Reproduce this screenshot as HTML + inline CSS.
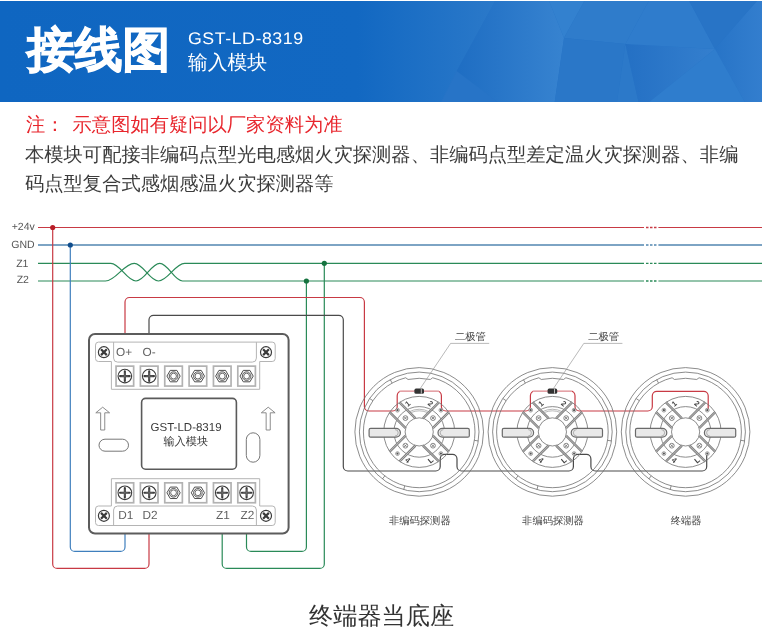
<!DOCTYPE html>
<html><head><meta charset="utf-8"><style>
html,body{margin:0;padding:0;background:#fff;}
body{width:762px;height:641px;overflow:hidden;position:relative;font-family:"Liberation Sans",sans-serif;text-rendering:geometricPrecision;}
.t{position:absolute;white-space:nowrap;line-height:1;will-change:transform;}
svg text{font-family:"Liberation Sans",sans-serif;}
</style></head><body>
<svg width="762" height="101" viewBox="0 1 762 101" style="position:absolute;left:0;top:1px">
<defs>
<linearGradient id="g1" gradientUnits="userSpaceOnUse" x1="0" y1="0" x2="496" y2="0"><stop offset="0" stop-color="#0f66c1"/><stop offset="0.72" stop-color="#1268c2"/><stop offset="1" stop-color="#2b79c9"/></linearGradient>
<linearGradient id="g3" gradientUnits="userSpaceOnUse" x1="460" y1="0" x2="564" y2="0"><stop offset="0" stop-color="#1f6ec3"/><stop offset="1" stop-color="#3783d0"/></linearGradient>
<linearGradient id="g8" gradientUnits="userSpaceOnUse" x1="625" y1="0" x2="715" y2="0"><stop offset="0" stop-color="#2470c4"/><stop offset="1" stop-color="#347fce"/></linearGradient>
<linearGradient id="g11" gradientUnits="userSpaceOnUse" x1="715" y1="0" x2="762" y2="0"><stop offset="0" stop-color="#2774c7"/><stop offset="1" stop-color="#337ece"/></linearGradient>
</defs>
<rect x="0" y="0" width="762" height="102" fill="#2673c6"/>
<polygon points="0,0 495.6,0 456.6,70.9 441.3,102 0,102" fill="url(#g1)"/>
<polygon points="456.6,70.9 441.3,102 498,102" fill="#2774c7"/>
<polygon points="495.6,0 548.7,0 564,38 554.7,102 498,102 456.6,70.9" fill="url(#g3)"/>
<polygon points="548.7,0 585,0 564,38" fill="#3381cf"/>
<polygon points="585,0 649.3,0 625.4,44 564,38" fill="#2f7ccb"/>
<polygon points="564,38 625.4,44 617,102 554.7,102" fill="#2a77c8"/>
<polygon points="625.4,44 638.5,102 617,102" fill="#2c79c9"/>
<polygon points="625.4,44 715,49 649.3,102 638.5,102" fill="url(#g8)"/>
<polygon points="649.3,0 688.7,0 715,49 625.4,44" fill="#2f7ccc"/>
<polygon points="688.7,0 758,0 715,49" fill="#2874c6"/>
<polygon points="758,0 762,0 762,102 744.8,102 715,49" fill="url(#g11)"/>
<polygon points="715,49 744.8,102 649.3,102" fill="#2f7dcd"/>
</svg>
<div class="t" style="left:26.8px;top:26.5px;font-size:47.8px;font-weight:bold;color:#fff;-webkit-text-stroke:1px #fff">接线图</div>
<div class="t" style="left:188px;top:30.5px;font-size:16.8px;letter-spacing:0.5px;color:#fff;transform:scaleX(1.06);transform-origin:0 0">GST-LD-8319</div>
<div class="t" style="left:188px;top:54px;font-size:19.8px;color:#fff">输入模块</div>
<div class="t" style="left:25.6px;top:116.3px;font-size:19.3px;color:#e8262d">注：<span style="margin-left:8px">示意图如有疑问以厂家资料为准</span></div>
<div class="t" style="left:25.2px;top:145.7px;font-size:19.3px;color:#3c3c3c">本模块可配接非编码点型光电感烟火灾探测器、非编码点型差定温火灾探测器、非编</div>
<div class="t" style="left:25.2px;top:175.2px;font-size:19.3px;color:#3c3c3c">码点型复合式感烟感温火灾探测器等</div>
<div class="t" style="left:308.5px;top:604.6px;font-size:24.2px;color:#333">终端器当底座</div>
<svg width="762" height="641" viewBox="0 0 762 641" style="position:absolute;left:0;top:0;will-change:transform">
<g fill="none" stroke-width="1.2"><path d="M38 227.5H762" stroke="#c83a44"/><path d="M38 245H762" stroke="#5286b0" stroke-width="1.4"/><path d="M38 263.3H110.8 C119.87 263.3 126.93 281 136 281 C144.57 281 151.23 263.3 159.8 263.3 C167.97 263.3 174.33 281 182.5 281H762" stroke="#2a8a58"/><path d="M38 281.0H105.5 C115.87 281 123.93 263.3 134.3 263.3 C142.98 263.3 149.72 281 158.4 281 C167.83 281 175.17 263.3 184.6 263.3H762" stroke="#2a8a58"/><path d="M52.7 227.5L52.7 563.9A4.5 4.5 0 0 0 57.2 568.4L144.5 568.4A4.5 4.5 0 0 0 149 563.9L149 534" stroke="#c83a44"/><path d="M70.3 245L70.3 546.9A4.5 4.5 0 0 0 74.8 551.4L120.5 551.4A4.5 4.5 0 0 0 125 546.9L125 534" stroke="#3f7fbd"/><path d="M324.3 263.3L324.3 563.9A4.5 4.5 0 0 1 319.8 568.4L226.7 568.4A4.5 4.5 0 0 1 222.2 563.9L222.2 534" stroke="#2a8a58"/><path d="M306.4 281L306.4 546.9A4.5 4.5 0 0 1 301.9 551.4L251 551.4A4.5 4.5 0 0 1 246.5 546.9L246.5 534" stroke="#2a8a58"/><path d="M125 334L125 302A4.5 4.5 0 0 1 129.5 297.5L359.9 297.5A4.5 4.5 0 0 1 364.4 302L364.4 406.5A4.5 4.5 0 0 0 368.9 411L392.7 411A4.5 4.5 0 0 0 397.2 406.5L397.2 395.7A4.5 4.5 0 0 1 401.7 391.2L436.9 391.2A4.5 4.5 0 0 1 441.4 395.7L441.4 406.5A4.5 4.5 0 0 0 445.9 411L525.9 411A4.5 4.5 0 0 0 530.4 406.5L530.4 395.7A4.5 4.5 0 0 1 534.9 391.2L570.5 391.2A4.5 4.5 0 0 1 575 395.7L575 406.5A4.5 4.5 0 0 0 579.5 411L647.8 411A4.5 4.5 0 0 0 652.3 406.5L652.3 395.8A4.5 4.5 0 0 1 656.8 391.3L703.7 391.3A4.5 4.5 0 0 1 708.2 395.8L708.2 411" stroke="#c83a44"/><path d="M149 334L149 319.8A4.5 4.5 0 0 1 153.5 315.3L338.8 315.3A4.5 4.5 0 0 1 343.3 319.8L343.3 466.5A4.5 4.5 0 0 0 347.8 471L435.7 471A4.5 4.5 0 0 0 440.2 466.5L440.2 458.9A4.5 4.5 0 0 1 444.7 454.4L452.5 454.4A4.5 4.5 0 0 1 457 458.9L457 466.5A4.5 4.5 0 0 0 461.5 471L568.9 471A4.5 4.5 0 0 0 573.4 466.5L573.4 458.9A4.5 4.5 0 0 1 577.9 454.4L586.4 454.4A4.5 4.5 0 0 1 590.9 458.9L590.9 466.5A4.5 4.5 0 0 0 595.4 471L702.2 471A4.5 4.5 0 0 0 706.7 466.5L706.7 454" stroke="#4a4a4a"/></g><rect x="644" y="224" width="14.4" height="60" fill="#fff"/><g stroke-width="1.3" fill="none" stroke-dasharray="2.5 1.5"><path d="M646 227.5H657" stroke="#c83a44"/><path d="M646 245H657" stroke="#5286b0"/><path d="M646 263.3H657" stroke="#2a8a58"/><path d="M646 281.0H657" stroke="#2a8a58"/></g><circle cx="52.7" cy="227.5" r="2.6" fill="#b81e28"/><circle cx="70.3" cy="245" r="2.6" fill="#0f4d8c"/><circle cx="324.3" cy="263.3" r="2.6" fill="#16733f"/><circle cx="306.4" cy="281" r="2.6" fill="#16733f"/><text x="23.2" y="229.6" text-anchor="middle" font-size="10.5" fill="#555">+24v</text><text x="23" y="248.1" text-anchor="middle" font-size="10.5" fill="#555">GND</text><text x="22.3" y="267.1" text-anchor="middle" font-size="10.5" fill="#555">Z1</text><text x="22.8" y="283.1" text-anchor="middle" font-size="10.5" fill="#555">Z2</text><rect x="89" y="334" width="199.6" height="199.5" rx="6" fill="#fff" stroke="#5c5c5c" stroke-width="2"/><path d="M111.4 361.5V389.3H259.7V361.5" fill="none" stroke="#b4b4b4" stroke-width="1"/><path d="M111.4 361.5H98.5a3 3 0 0 1-3-3V345.1a3 3 0 0 1 3-3H272.2a3 3 0 0 1 3 3V358.5a3 3 0 0 1-3 3H259.7" fill="none" stroke="#b4b4b4" stroke-width="1"/><path d="M113.6 342.1V358.1a4 4 0 0 0 4 4H252.4a4 4 0 0 0 4-4V342.1" fill="none" stroke="#b4b4b4" stroke-width="1"/><path d="M111.4 506V478.7H259.7V506" fill="none" stroke="#b4b4b4" stroke-width="1"/><path d="M111.4 506H98.5a3 3 0 0 0-3 3V522.5a3 3 0 0 0 3 3H272.2a3 3 0 0 0 3-3V509a3 3 0 0 0-3-3H259.7" fill="none" stroke="#b4b4b4" stroke-width="1"/><path d="M113.6 525.5V510a4 4 0 0 1 4-4H252.4a4 4 0 0 1 4 4V525.5" fill="none" stroke="#b4b4b4" stroke-width="1"/><circle cx="103.9" cy="352.2" r="5.5" fill="#fff" stroke="#3a3a3a" stroke-width="1.2"/><path d="M101 349.3L106.8 355.1M106.8 349.3L101 355.1" stroke="#3a3a3a" stroke-width="2.2"/><circle cx="266" cy="352.2" r="5.5" fill="#fff" stroke="#3a3a3a" stroke-width="1.2"/><path d="M263.1 349.3L268.9 355.1M268.9 349.3L263.1 355.1" stroke="#3a3a3a" stroke-width="2.2"/><circle cx="103.9" cy="515.8" r="5.5" fill="#fff" stroke="#3a3a3a" stroke-width="1.2"/><path d="M101 512.9L106.8 518.7M106.8 512.9L101 518.7" stroke="#3a3a3a" stroke-width="2.2"/><circle cx="266" cy="515.8" r="5.5" fill="#fff" stroke="#3a3a3a" stroke-width="1.2"/><path d="M263.1 512.9L268.9 518.7M268.9 512.9L263.1 518.7" stroke="#3a3a3a" stroke-width="2.2"/><rect x="116.05" y="366.15" width="17.6" height="19.9" fill="#fff" stroke="#b2b2b2" stroke-width="1.7"/><circle cx="124.85" cy="376.1" r="6.8" fill="#fff" stroke="#3a3a3a" stroke-width="1.1"/><path d="M120.05 376.1H129.65M124.85 371.3V380.9" stroke="#3c3c3c" stroke-width="2.1" stroke-linecap="round"/><path d="M121.35 376.1H128.35M124.85 372.6V379.6" stroke="#8a8a8a" stroke-width="0.5"/><rect x="116.05" y="482.85" width="17.6" height="19.9" fill="#fff" stroke="#b2b2b2" stroke-width="1.7"/><circle cx="124.85" cy="492.8" r="6.8" fill="#fff" stroke="#3a3a3a" stroke-width="1.1"/><path d="M120.05 492.8H129.65M124.85 488V497.6" stroke="#3c3c3c" stroke-width="2.1" stroke-linecap="round"/><path d="M121.35 492.8H128.35M124.85 489.3V496.3" stroke="#8a8a8a" stroke-width="0.5"/><rect x="140.4" y="366.15" width="17.6" height="19.9" fill="#fff" stroke="#b2b2b2" stroke-width="1.7"/><circle cx="149.2" cy="376.1" r="6.8" fill="#fff" stroke="#3a3a3a" stroke-width="1.1"/><path d="M144.4 376.1H154M149.2 371.3V380.9" stroke="#3c3c3c" stroke-width="2.1" stroke-linecap="round"/><path d="M145.7 376.1H152.7M149.2 372.6V379.6" stroke="#8a8a8a" stroke-width="0.5"/><rect x="140.4" y="482.85" width="17.6" height="19.9" fill="#fff" stroke="#b2b2b2" stroke-width="1.7"/><circle cx="149.2" cy="492.8" r="6.8" fill="#fff" stroke="#3a3a3a" stroke-width="1.1"/><path d="M144.4 492.8H154M149.2 488V497.6" stroke="#3c3c3c" stroke-width="2.1" stroke-linecap="round"/><path d="M145.7 492.8H152.7M149.2 489.3V496.3" stroke="#8a8a8a" stroke-width="0.5"/><rect x="164.75" y="366.15" width="17.6" height="19.9" fill="#fff" stroke="#b2b2b2" stroke-width="1.7"/><polygon points="180.15,376.1 176.85,381.82 170.25,381.82 166.95,376.1 170.25,370.38 176.85,370.38" fill="#fff" stroke="#3a3a3a" stroke-width="0.9"/><circle cx="173.55" cy="376.1" r="4.3" fill="none" stroke="#3a3a3a" stroke-width="0.85"/><circle cx="173.55" cy="376.1" r="2.9" fill="none" stroke="#3a3a3a" stroke-width="0.75"/><rect x="164.75" y="482.85" width="17.6" height="19.9" fill="#fff" stroke="#b2b2b2" stroke-width="1.7"/><polygon points="180.15,492.8 176.85,498.52 170.25,498.52 166.95,492.8 170.25,487.08 176.85,487.08" fill="#fff" stroke="#3a3a3a" stroke-width="0.9"/><circle cx="173.55" cy="492.8" r="4.3" fill="none" stroke="#3a3a3a" stroke-width="0.85"/><circle cx="173.55" cy="492.8" r="2.9" fill="none" stroke="#3a3a3a" stroke-width="0.75"/><rect x="189.1" y="366.15" width="17.6" height="19.9" fill="#fff" stroke="#b2b2b2" stroke-width="1.7"/><polygon points="204.5,376.1 201.2,381.82 194.6,381.82 191.3,376.1 194.6,370.38 201.2,370.38" fill="#fff" stroke="#3a3a3a" stroke-width="0.9"/><circle cx="197.9" cy="376.1" r="4.3" fill="none" stroke="#3a3a3a" stroke-width="0.85"/><circle cx="197.9" cy="376.1" r="2.9" fill="none" stroke="#3a3a3a" stroke-width="0.75"/><rect x="189.1" y="482.85" width="17.6" height="19.9" fill="#fff" stroke="#b2b2b2" stroke-width="1.7"/><polygon points="204.5,492.8 201.2,498.52 194.6,498.52 191.3,492.8 194.6,487.08 201.2,487.08" fill="#fff" stroke="#3a3a3a" stroke-width="0.9"/><circle cx="197.9" cy="492.8" r="4.3" fill="none" stroke="#3a3a3a" stroke-width="0.85"/><circle cx="197.9" cy="492.8" r="2.9" fill="none" stroke="#3a3a3a" stroke-width="0.75"/><rect x="213.45" y="366.15" width="17.6" height="19.9" fill="#fff" stroke="#b2b2b2" stroke-width="1.7"/><polygon points="228.85,376.1 225.55,381.82 218.95,381.82 215.65,376.1 218.95,370.38 225.55,370.38" fill="#fff" stroke="#3a3a3a" stroke-width="0.9"/><circle cx="222.25" cy="376.1" r="4.3" fill="none" stroke="#3a3a3a" stroke-width="0.85"/><circle cx="222.25" cy="376.1" r="2.9" fill="none" stroke="#3a3a3a" stroke-width="0.75"/><rect x="213.45" y="482.85" width="17.6" height="19.9" fill="#fff" stroke="#b2b2b2" stroke-width="1.7"/><circle cx="222.25" cy="492.8" r="6.8" fill="#fff" stroke="#3a3a3a" stroke-width="1.1"/><path d="M217.45 492.8H227.05M222.25 488V497.6" stroke="#3c3c3c" stroke-width="2.1" stroke-linecap="round"/><path d="M218.75 492.8H225.75M222.25 489.3V496.3" stroke="#8a8a8a" stroke-width="0.5"/><rect x="237.8" y="366.15" width="17.6" height="19.9" fill="#fff" stroke="#b2b2b2" stroke-width="1.7"/><polygon points="253.2,376.1 249.9,381.82 243.3,381.82 240,376.1 243.3,370.38 249.9,370.38" fill="#fff" stroke="#3a3a3a" stroke-width="0.9"/><circle cx="246.6" cy="376.1" r="4.3" fill="none" stroke="#3a3a3a" stroke-width="0.85"/><circle cx="246.6" cy="376.1" r="2.9" fill="none" stroke="#3a3a3a" stroke-width="0.75"/><rect x="237.8" y="482.85" width="17.6" height="19.9" fill="#fff" stroke="#b2b2b2" stroke-width="1.7"/><circle cx="246.6" cy="492.8" r="6.8" fill="#fff" stroke="#3a3a3a" stroke-width="1.1"/><path d="M241.8 492.8H251.4M246.6 488V497.6" stroke="#3c3c3c" stroke-width="2.1" stroke-linecap="round"/><path d="M243.1 492.8H250.1M246.6 489.3V496.3" stroke="#8a8a8a" stroke-width="0.5"/><g font-size="11.8" fill="#606060"><text x="116" y="356">O+</text><text x="142.6" y="356">O-</text><text x="118.3" y="519.4">D1</text><text x="142.5" y="519.4">D2</text><text x="216" y="519.4">Z1</text><text x="240.6" y="519.4">Z2</text></g><rect x="141.6" y="398.4" width="94.8" height="70.8" rx="4" fill="#fff" stroke="#5a5a5a" stroke-width="1.6"/><text x="186.1" y="431" text-anchor="middle" font-size="11.5" fill="#383838">GST-LD-8319</text><text x="185.8" y="445" text-anchor="middle" font-size="11.2" fill="#383838">输入模块</text><path d="M102.7 407.2L109.6 412.8H104.75V430H100.65V412.8H95.8Z" fill="#fff" stroke="#808080" stroke-width="0.9" stroke-linejoin="miter"/><path d="M268.2 407.2L275.1 412.8H270.25V430H266.15V412.8H261.3Z" fill="#fff" stroke="#808080" stroke-width="0.9" stroke-linejoin="miter"/><rect x="99" y="439.2" width="29.5" height="12" rx="6" fill="#fff" stroke="#777" stroke-width="1"/><rect x="246.3" y="432.8" width="13.6" height="29.4" rx="6.8" fill="#fff" stroke="#777" stroke-width="1"/><g fill="none" stroke="#6e6e6e" stroke-width="0.8"><circle cx="419.2" cy="431.9" r="64.3"/><circle cx="419.2" cy="431.9" r="59.8"/><path d="M432.7 377.76A55.8 55.8 0 1 1 405.7 377.76"/><path d="M408.06 379.47A53.6 53.6 0 0 1 430.34 379.47"/><path d="M405.7 377.76L408.06 379.47"/><path d="M432.7 377.76L430.34 379.47"/><path d="M372.94 400.7L369.62 398.46"/><path d="M392.15 383.1L390.21 379.6"/><path d="M384.85 475.87L382.38 479.02"/><path d="M404.76 485.8L403.72 489.66"/><path d="M474.36 440.34L478.31 440.95"/><circle cx="419.2" cy="431.9" r="35.5"/><circle cx="419.2" cy="431.9" r="25.3"/><circle cx="419.2" cy="431.9" r="14.1"/></g><path d="M432.8 435.61L448.76 451.56M422.91 445.5L438.86 461.46M415.49 445.5L399.54 461.46M405.6 435.61L389.64 451.56M405.6 428.19L389.64 412.24M415.49 418.3L399.54 402.34M422.91 418.3L438.86 402.34M432.8 428.19L448.76 412.24" stroke="#828282" stroke-width="2.5" fill="none"/><path d="M432.8 435.61L448.76 451.56M422.91 445.5L438.86 461.46M415.49 445.5L399.54 461.46M405.6 435.61L389.64 451.56M405.6 428.19L389.64 412.24M415.49 418.3L399.54 402.34M422.91 418.3L438.86 402.34M432.8 428.19L448.76 412.24" stroke="#c8c8c8" stroke-width="0.8" fill="none"/><circle cx="432.99" cy="445.69" r="2.4" fill="#fff" stroke="#666" stroke-width="0.75"/><path d="M431.69 444.39L434.29 446.99M434.29 444.39L431.69 446.99" stroke="#666" stroke-width="0.8"/><circle cx="440.91" cy="453.61" r="1.9" fill="#fff" stroke="#666" stroke-width="0.6"/><circle cx="440.91" cy="453.61" r="1.1" fill="#555"/><circle cx="405.41" cy="445.69" r="2.4" fill="#fff" stroke="#666" stroke-width="0.75"/><path d="M404.11 444.39L406.71 446.99M406.71 444.39L404.11 446.99" stroke="#666" stroke-width="0.8"/><circle cx="397.49" cy="453.61" r="1.9" fill="#fff" stroke="#666" stroke-width="0.6"/><circle cx="397.49" cy="453.61" r="1.1" fill="#555"/><circle cx="405.41" cy="418.11" r="2.4" fill="#fff" stroke="#666" stroke-width="0.75"/><path d="M404.11 416.81L406.71 419.41M406.71 416.81L404.11 419.41" stroke="#666" stroke-width="0.8"/><circle cx="397.49" cy="410.19" r="1.9" fill="#fff" stroke="#666" stroke-width="0.6"/><circle cx="397.49" cy="410.19" r="1.1" fill="#555"/><circle cx="432.99" cy="418.11" r="2.4" fill="#fff" stroke="#666" stroke-width="0.75"/><path d="M431.69 416.81L434.29 419.41M434.29 416.81L431.69 419.41" stroke="#666" stroke-width="0.8"/><circle cx="440.91" cy="410.19" r="1.9" fill="#fff" stroke="#666" stroke-width="0.6"/><circle cx="440.91" cy="410.19" r="1.1" fill="#555"/><path d="M408.64 412.03A22.5 22.5 0 0 1 429.76 412.03" fill="none" stroke="#888" stroke-width="0.6"/><path d="M411.33 412.43A21 21 0 0 1 427.07 412.43" fill="none" stroke="#888" stroke-width="0.6"/><text x="407.77" y="406.22" font-size="7.5" font-weight="bold" fill="#444" text-anchor="middle" transform="rotate(-40 407.77 403.62)">1</text><text x="430.63" y="406.22" font-size="7.5" font-weight="bold" fill="#444" text-anchor="middle" transform="rotate(40 430.63 403.62)">2</text><text x="407.77" y="462.78" font-size="7.5" font-weight="bold" fill="#444" text-anchor="middle" transform="rotate(40 407.77 460.18)">4</text><text x="430.63" y="462.78" font-size="7.5" font-weight="bold" fill="#444" text-anchor="middle" transform="rotate(-40 430.63 460.18)">L</text><path d="M370.6 428.4H396A4.4 4.4 0 0 1 396 437.2H370.6A1.5 1.5 0 0 1 369.1 435.7V429.9A1.5 1.5 0 0 1 370.6 428.4Z" fill="#e9e9e9" stroke="#6a6a6a" stroke-width="1.2"/><path d="M395 429.6A3.2 3.2 0 0 1 395 436" fill="none" stroke="#888" stroke-width="0.6"/><path d="M467.8 428.4H442.4A4.4 4.4 0 0 0 442.4 437.2H467.8A1.5 1.5 0 0 0 469.3 435.7V429.9A1.5 1.5 0 0 0 467.8 428.4Z" fill="#e9e9e9" stroke="#6a6a6a" stroke-width="1.2"/><path d="M443.4 429.6A3.2 3.2 0 0 0 443.4 436" fill="none" stroke="#888" stroke-width="0.6"/><g fill="none" stroke="#6e6e6e" stroke-width="0.8"><circle cx="552.4" cy="431.9" r="64.3"/><circle cx="552.4" cy="431.9" r="59.8"/><path d="M565.9 377.76A55.8 55.8 0 1 1 538.9 377.76"/><path d="M541.26 379.47A53.6 53.6 0 0 1 563.54 379.47"/><path d="M538.9 377.76L541.26 379.47"/><path d="M565.9 377.76L563.54 379.47"/><path d="M506.14 400.7L502.82 398.46"/><path d="M525.35 383.1L523.41 379.6"/><path d="M518.05 475.87L515.58 479.02"/><path d="M537.96 485.8L536.92 489.66"/><path d="M607.56 440.34L611.51 440.95"/><circle cx="552.4" cy="431.9" r="35.5"/><circle cx="552.4" cy="431.9" r="25.3"/><circle cx="552.4" cy="431.9" r="14.1"/></g><path d="M566 435.61L581.96 451.56M556.11 445.5L572.06 461.46M548.69 445.5L532.74 461.46M538.8 435.61L522.84 451.56M538.8 428.19L522.84 412.24M548.69 418.3L532.74 402.34M556.11 418.3L572.06 402.34M566 428.19L581.96 412.24" stroke="#828282" stroke-width="2.5" fill="none"/><path d="M566 435.61L581.96 451.56M556.11 445.5L572.06 461.46M548.69 445.5L532.74 461.46M538.8 435.61L522.84 451.56M538.8 428.19L522.84 412.24M548.69 418.3L532.74 402.34M556.11 418.3L572.06 402.34M566 428.19L581.96 412.24" stroke="#c8c8c8" stroke-width="0.8" fill="none"/><circle cx="566.19" cy="445.69" r="2.4" fill="#fff" stroke="#666" stroke-width="0.75"/><path d="M564.89 444.39L567.49 446.99M567.49 444.39L564.89 446.99" stroke="#666" stroke-width="0.8"/><circle cx="574.11" cy="453.61" r="1.9" fill="#fff" stroke="#666" stroke-width="0.6"/><circle cx="574.11" cy="453.61" r="1.1" fill="#555"/><circle cx="538.61" cy="445.69" r="2.4" fill="#fff" stroke="#666" stroke-width="0.75"/><path d="M537.31 444.39L539.91 446.99M539.91 444.39L537.31 446.99" stroke="#666" stroke-width="0.8"/><circle cx="530.69" cy="453.61" r="1.9" fill="#fff" stroke="#666" stroke-width="0.6"/><circle cx="530.69" cy="453.61" r="1.1" fill="#555"/><circle cx="538.61" cy="418.11" r="2.4" fill="#fff" stroke="#666" stroke-width="0.75"/><path d="M537.31 416.81L539.91 419.41M539.91 416.81L537.31 419.41" stroke="#666" stroke-width="0.8"/><circle cx="530.69" cy="410.19" r="1.9" fill="#fff" stroke="#666" stroke-width="0.6"/><circle cx="530.69" cy="410.19" r="1.1" fill="#555"/><circle cx="566.19" cy="418.11" r="2.4" fill="#fff" stroke="#666" stroke-width="0.75"/><path d="M564.89 416.81L567.49 419.41M567.49 416.81L564.89 419.41" stroke="#666" stroke-width="0.8"/><circle cx="574.11" cy="410.19" r="1.9" fill="#fff" stroke="#666" stroke-width="0.6"/><circle cx="574.11" cy="410.19" r="1.1" fill="#555"/><path d="M541.84 412.03A22.5 22.5 0 0 1 562.96 412.03" fill="none" stroke="#888" stroke-width="0.6"/><path d="M544.53 412.43A21 21 0 0 1 560.27 412.43" fill="none" stroke="#888" stroke-width="0.6"/><text x="540.97" y="406.22" font-size="7.5" font-weight="bold" fill="#444" text-anchor="middle" transform="rotate(-40 540.97 403.62)">1</text><text x="563.83" y="406.22" font-size="7.5" font-weight="bold" fill="#444" text-anchor="middle" transform="rotate(40 563.83 403.62)">2</text><text x="540.97" y="462.78" font-size="7.5" font-weight="bold" fill="#444" text-anchor="middle" transform="rotate(40 540.97 460.18)">4</text><text x="563.83" y="462.78" font-size="7.5" font-weight="bold" fill="#444" text-anchor="middle" transform="rotate(-40 563.83 460.18)">L</text><path d="M503.8 428.4H529.2A4.4 4.4 0 0 1 529.2 437.2H503.8A1.5 1.5 0 0 1 502.3 435.7V429.9A1.5 1.5 0 0 1 503.8 428.4Z" fill="#e9e9e9" stroke="#6a6a6a" stroke-width="1.2"/><path d="M528.2 429.6A3.2 3.2 0 0 1 528.2 436" fill="none" stroke="#888" stroke-width="0.6"/><path d="M601 428.4H575.6A4.4 4.4 0 0 0 575.6 437.2H601A1.5 1.5 0 0 0 602.5 435.7V429.9A1.5 1.5 0 0 0 601 428.4Z" fill="#e9e9e9" stroke="#6a6a6a" stroke-width="1.2"/><path d="M576.6 429.6A3.2 3.2 0 0 0 576.6 436" fill="none" stroke="#888" stroke-width="0.6"/><g fill="none" stroke="#6e6e6e" stroke-width="0.8"><circle cx="685.6" cy="431.9" r="64.3"/><circle cx="685.6" cy="431.9" r="59.8"/><path d="M699.1 377.76A55.8 55.8 0 1 1 672.1 377.76"/><path d="M674.46 379.47A53.6 53.6 0 0 1 696.74 379.47"/><path d="M672.1 377.76L674.46 379.47"/><path d="M699.1 377.76L696.74 379.47"/><path d="M639.34 400.7L636.02 398.46"/><path d="M658.55 383.1L656.61 379.6"/><path d="M651.25 475.87L648.78 479.02"/><path d="M671.16 485.8L670.12 489.66"/><path d="M740.76 440.34L744.71 440.95"/><circle cx="685.6" cy="431.9" r="35.5"/><circle cx="685.6" cy="431.9" r="25.3"/><circle cx="685.6" cy="431.9" r="14.1"/></g><path d="M699.2 435.61L715.16 451.56M689.31 445.5L705.26 461.46M681.89 445.5L665.94 461.46M672 435.61L656.04 451.56M672 428.19L656.04 412.24M681.89 418.3L665.94 402.34M689.31 418.3L705.26 402.34M699.2 428.19L715.16 412.24" stroke="#828282" stroke-width="2.5" fill="none"/><path d="M699.2 435.61L715.16 451.56M689.31 445.5L705.26 461.46M681.89 445.5L665.94 461.46M672 435.61L656.04 451.56M672 428.19L656.04 412.24M681.89 418.3L665.94 402.34M689.31 418.3L705.26 402.34M699.2 428.19L715.16 412.24" stroke="#c8c8c8" stroke-width="0.8" fill="none"/><circle cx="699.39" cy="445.69" r="2.4" fill="#fff" stroke="#666" stroke-width="0.75"/><path d="M698.09 444.39L700.69 446.99M700.69 444.39L698.09 446.99" stroke="#666" stroke-width="0.8"/><circle cx="707.31" cy="453.61" r="1.9" fill="#fff" stroke="#666" stroke-width="0.6"/><circle cx="707.31" cy="453.61" r="1.1" fill="#555"/><circle cx="671.81" cy="445.69" r="2.4" fill="#fff" stroke="#666" stroke-width="0.75"/><path d="M670.51 444.39L673.11 446.99M673.11 444.39L670.51 446.99" stroke="#666" stroke-width="0.8"/><circle cx="663.89" cy="453.61" r="1.9" fill="#fff" stroke="#666" stroke-width="0.6"/><circle cx="663.89" cy="453.61" r="1.1" fill="#555"/><circle cx="671.81" cy="418.11" r="2.4" fill="#fff" stroke="#666" stroke-width="0.75"/><path d="M670.51 416.81L673.11 419.41M673.11 416.81L670.51 419.41" stroke="#666" stroke-width="0.8"/><circle cx="663.89" cy="410.19" r="1.9" fill="#fff" stroke="#666" stroke-width="0.6"/><circle cx="663.89" cy="410.19" r="1.1" fill="#555"/><circle cx="699.39" cy="418.11" r="2.4" fill="#fff" stroke="#666" stroke-width="0.75"/><path d="M698.09 416.81L700.69 419.41M700.69 416.81L698.09 419.41" stroke="#666" stroke-width="0.8"/><circle cx="707.31" cy="410.19" r="1.9" fill="#fff" stroke="#666" stroke-width="0.6"/><circle cx="707.31" cy="410.19" r="1.1" fill="#555"/><text x="674.17" y="406.22" font-size="7.5" font-weight="bold" fill="#444" text-anchor="middle" transform="rotate(-40 674.17 403.62)">1</text><text x="697.03" y="406.22" font-size="7.5" font-weight="bold" fill="#444" text-anchor="middle" transform="rotate(40 697.03 403.62)">2</text><text x="674.17" y="462.78" font-size="7.5" font-weight="bold" fill="#444" text-anchor="middle" transform="rotate(40 674.17 460.18)">4</text><text x="697.03" y="462.78" font-size="7.5" font-weight="bold" fill="#444" text-anchor="middle" transform="rotate(-40 697.03 460.18)">L</text><path d="M637 428.4H662.4A4.4 4.4 0 0 1 662.4 437.2H637A1.5 1.5 0 0 1 635.5 435.7V429.9A1.5 1.5 0 0 1 637 428.4Z" fill="#e9e9e9" stroke="#6a6a6a" stroke-width="1.2"/><path d="M661.4 429.6A3.2 3.2 0 0 1 661.4 436" fill="none" stroke="#888" stroke-width="0.6"/><path d="M734.2 428.4H708.8A4.4 4.4 0 0 0 708.8 437.2H734.2A1.5 1.5 0 0 0 735.7 435.7V429.9A1.5 1.5 0 0 0 734.2 428.4Z" fill="#e9e9e9" stroke="#6a6a6a" stroke-width="1.2"/><path d="M709.8 429.6A3.2 3.2 0 0 0 709.8 436" fill="none" stroke="#888" stroke-width="0.6"/><path d="M399.7 391.2H438.7" stroke="#fff" stroke-width="1.8"/><path d="M399.7 391.2H438.7" stroke="#d46a72" stroke-width="0.9"/><path d="M532.9 391.2H571.9" stroke="#fff" stroke-width="1.8"/><path d="M532.9 391.2H571.9" stroke="#d46a72" stroke-width="0.9"/><rect x="414.4" y="388.6" width="9.6" height="5.2" rx="1.6" fill="#333"/><path d="M421.3 388.8V393.6" stroke="#ccc" stroke-width="0.9"/><path d="M420.2 388.6L450.6 343.4H489.2" fill="none" stroke="#8a8a8a" stroke-width="0.6"/><text x="455" y="339.6" font-size="10.3" fill="#444">二极管</text><rect x="547.6" y="388.6" width="9.6" height="5.2" rx="1.6" fill="#333"/><path d="M554.5 388.8V393.6" stroke="#ccc" stroke-width="0.9"/><path d="M553.4 388.6L583.8 343.4H622.4" fill="none" stroke="#8a8a8a" stroke-width="0.6"/><text x="588.2" y="339.6" font-size="10.3" fill="#444">二极管</text><text x="419.8" y="523.6" text-anchor="middle" font-size="10.3" fill="#484848">非编码探测器</text><text x="553" y="523.6" text-anchor="middle" font-size="10.3" fill="#484848">非编码探测器</text><text x="686.2" y="523.6" text-anchor="middle" font-size="10.3" fill="#484848">终端器</text>
</svg>
</body></html>
